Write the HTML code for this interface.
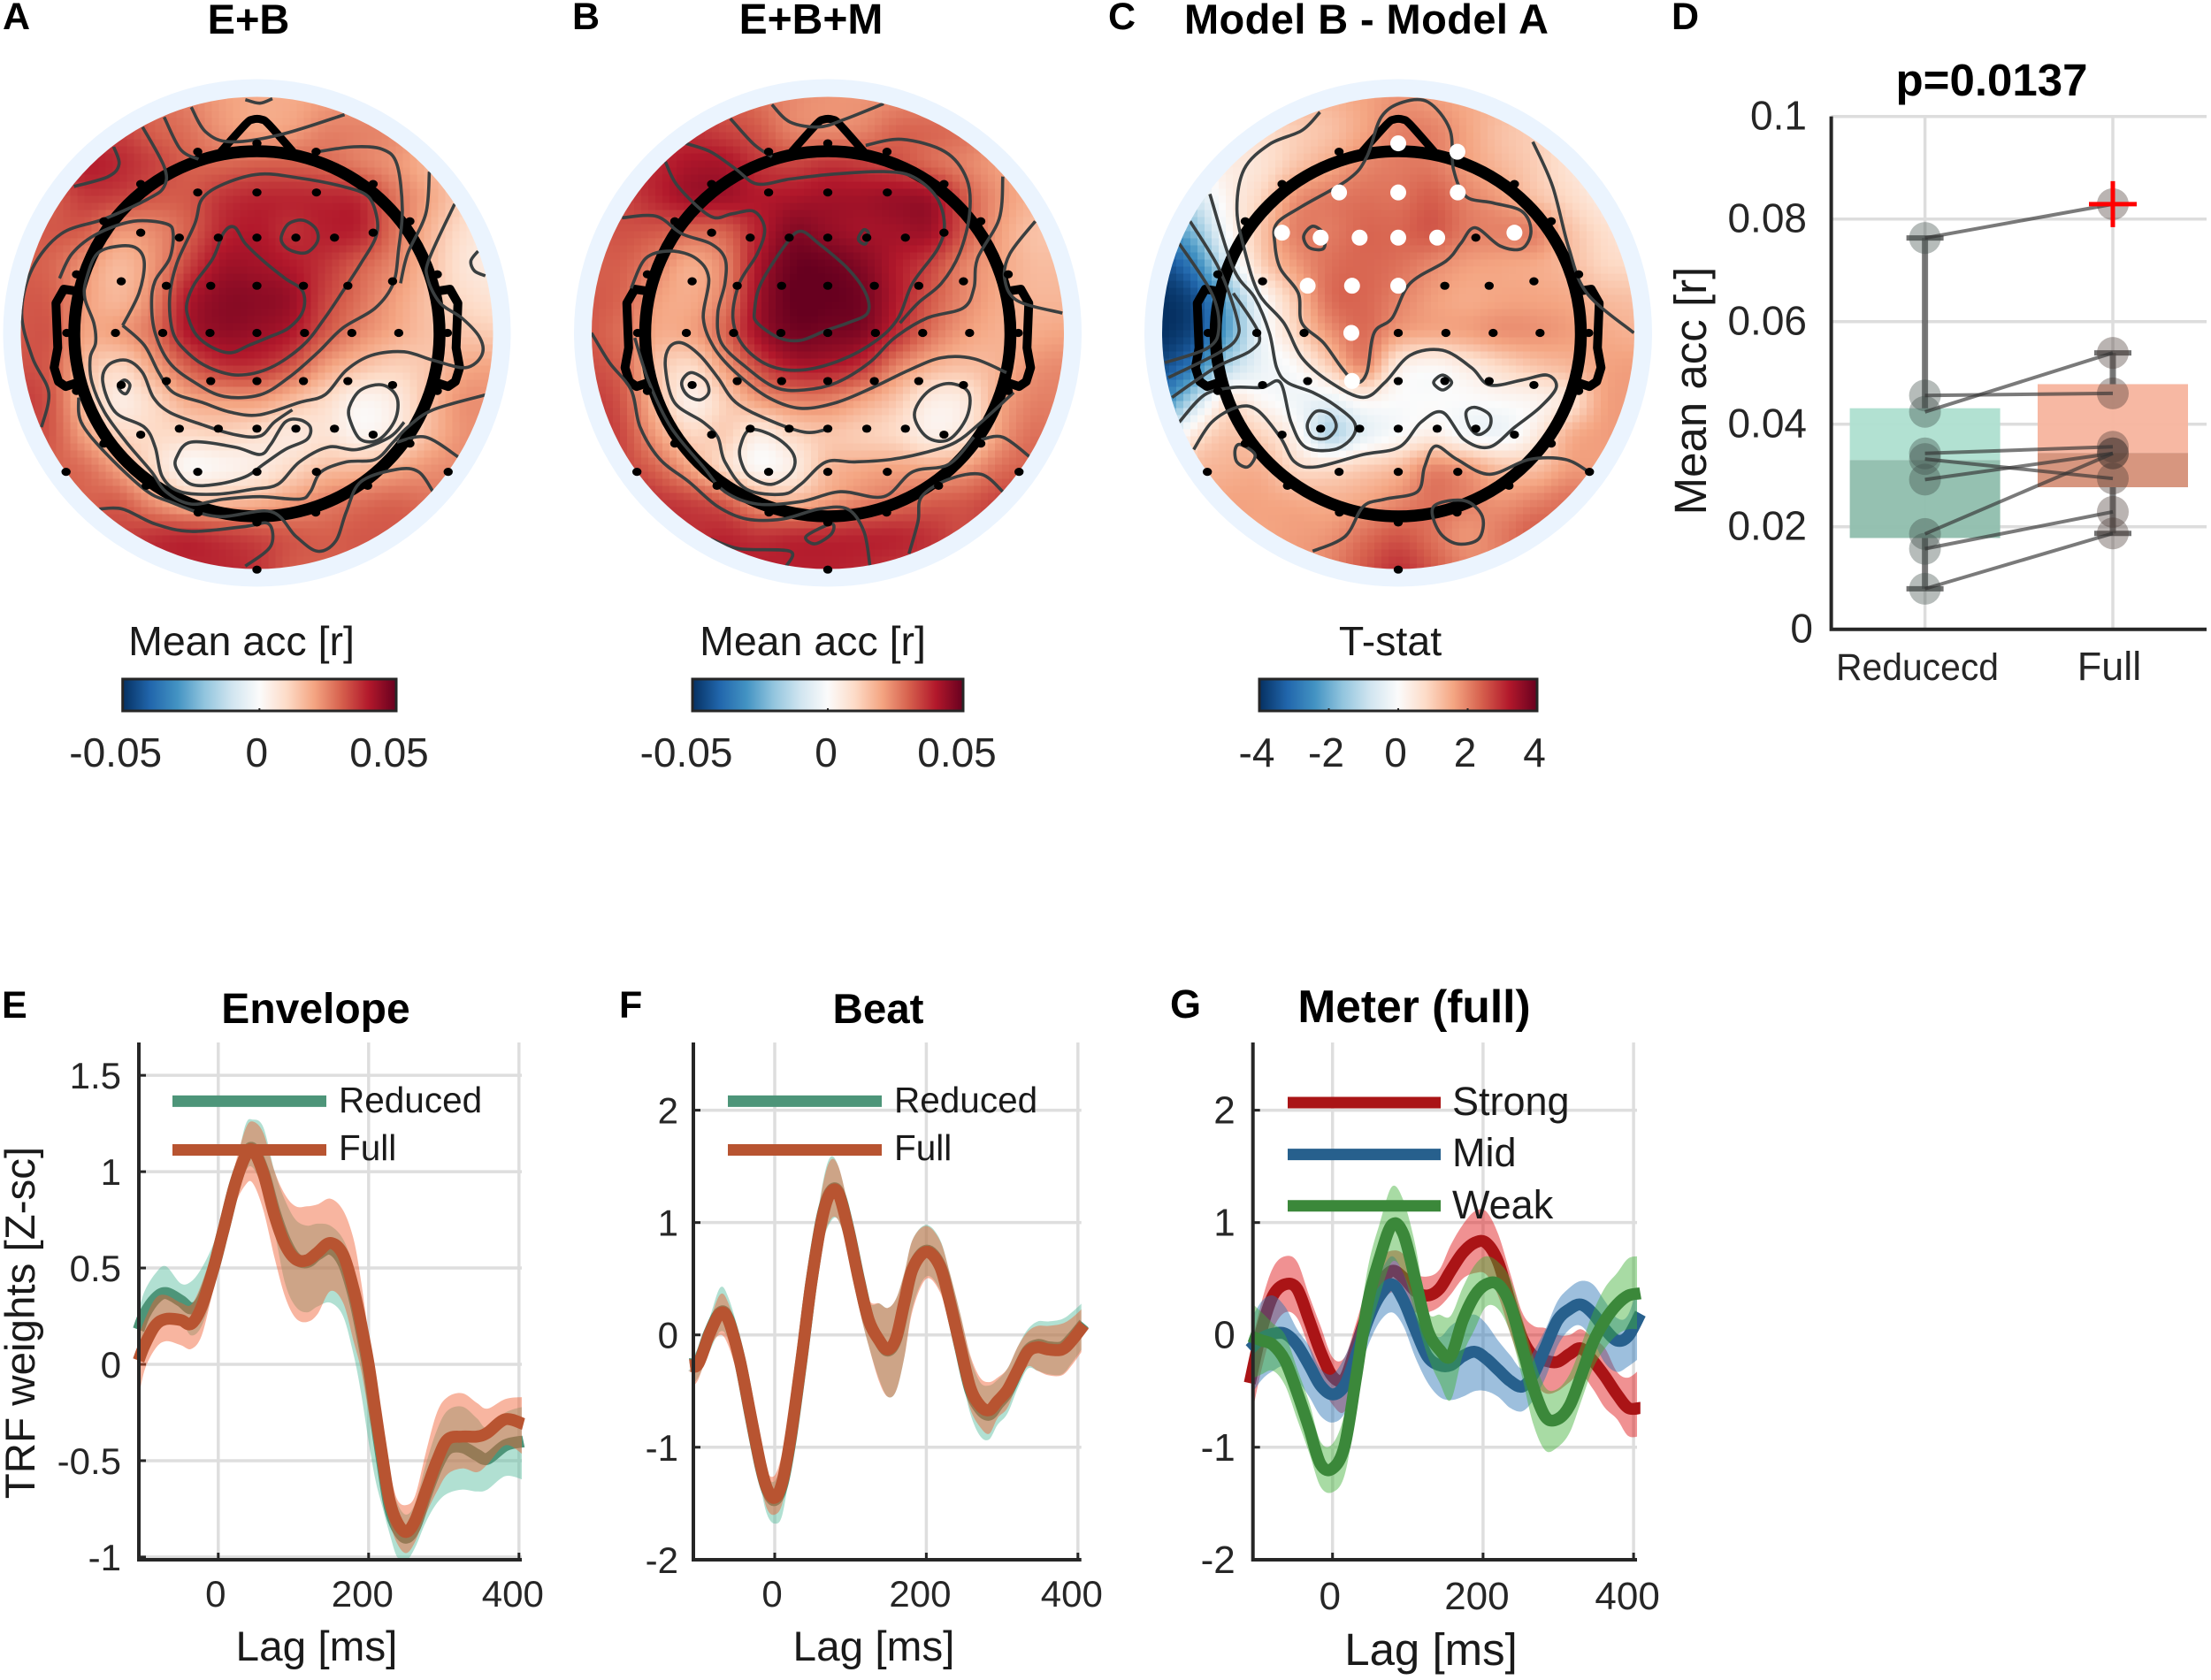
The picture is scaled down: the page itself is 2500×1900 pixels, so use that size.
<!DOCTYPE html>
<html lang="en">
<head>
<meta charset="utf-8">
<title>EEG topographies and TRF weights</title>
<style>
html,body{margin:0;padding:0;background:#fff;width:2500px;height:1900px;overflow:hidden}
svg{display:block;font-family:"Liberation Sans",sans-serif}
.tick{font-size:46px;fill:#262626}
.title{font-size:47px;font-weight:700;fill:#000}
.letter{font-size:43px;font-weight:700;fill:#000}
.label{fill:#1a1a1a}
</style>
</head>
<body>
<svg id="figure" xmlns="http://www.w3.org/2000/svg" width="2500" height="1900" viewBox="0 0 2500 1900">
  <rect width="2500" height="1900" fill="#fff"/>
  <g id="layer-topo"></g>
  <g id="layer-plots"></g>
  <g id="layer-text">
    <text class="letter" x="3" y="33">A</text>
    <text class="letter" x="647" y="33">B</text>
    <text class="letter" x="1253" y="33">C</text>
    <text class="letter" x="1890" y="33">D</text>
    <text class="letter" x="2" y="1151">E</text>
    <text class="letter" x="700" y="1151">F</text>
    <text class="letter" x="1323" y="1151" style="font-size:45px">G</text>

    <text class="title" x="281" y="38" text-anchor="middle">E+B</text>
    <text class="title" x="917" y="38" text-anchor="middle" style="font-size:48px">E+B+M</text>
    <text class="title" x="1545" y="38" text-anchor="middle" textLength="412">Model B - Model A</text>
    <text class="title" x="2252" y="108" text-anchor="middle" style="font-size:51px">p=0.0137</text>
    <text class="title" x="357" y="1157" text-anchor="middle" style="font-size:48px">Envelope</text>
    <text class="title" x="993" y="1157" text-anchor="middle" style="font-size:47.5px">Beat</text>
    <text class="title" x="1599" y="1156" text-anchor="middle" style="font-size:51.5px">Meter (full)</text>

    <text class="label" x="273" y="741" text-anchor="middle" font-size="46.5">Mean acc [r]</text>
    <text class="label" x="919" y="741" text-anchor="middle" font-size="46.5">Mean acc [r]</text>
    <text class="label" x="1572" y="741" text-anchor="middle" font-size="46.5">T-stat</text>

    <text class="label" x="1929" y="442" text-anchor="middle" font-size="51" transform="rotate(-90 1929 442)">Mean acc [r]</text>
    <text class="tick" x="2168" y="769" text-anchor="middle" textLength="184" lengthAdjust="spacingAndGlyphs" style="font-size:43px">Reducecd</text>
    <text class="tick" x="2385" y="769" text-anchor="middle" style="font-size:45px">Full</text>

    <text class="label" x="39" y="1496" text-anchor="middle" font-size="47.5" transform="rotate(-90 39 1496)">TRF weights [Z-sc]</text>
    <text class="label" x="358" y="1878" text-anchor="middle" font-size="47.7">Lag [ms]</text>
    <text class="label" x="988" y="1878" text-anchor="middle" font-size="47.7">Lag [ms]</text>
    <text class="label" x="1618" y="1883" text-anchor="middle" font-size="51">Lag [ms]</text>

    <text class="label" x="383" y="1258" font-size="40.5">Reduced</text>
    <text class="label" x="383" y="1312" font-size="40.5">Full</text>
    <text class="label" x="1011" y="1258" font-size="40.5">Reduced</text>
    <text class="label" x="1011" y="1312" font-size="40.5">Full</text>
    <text class="label" x="1642" y="1261" font-size="45">Strong</text>
    <text class="label" x="1642" y="1319" font-size="45">Mid</text>
    <text class="label" x="1642" y="1378" font-size="45">Weak</text>
  </g>
</svg>
<script>
/* ---------- colour scale ---------- */
const colormapValues = [-1,-0.8,-0.6,-0.4,-0.2,0,0.2,0.4,0.6,0.8,1];
const colormapColors = ['#053061','#2166ac','#4393c3','#92c5de','#d1e5f0','#fbfbfb','#fddbc7','#f4a582','#d6604d','#b2182b','#67001f'];

/* ---------- colorbar ticks ---------- */
const colorbarAccTicks = [-0.05,0,0.05];
const colorbarAccLabels = ['-0.05','0','0.05'];
const colorbarStatTicks = [-4,-2,0,2,4];
const colorbarStatLabels = ['-4','-2','0','2','4'];

/* ---------- scalp maps: 15x15 colour-scale samples (row = front to back) ---------- */
const topoAValues = [
[.62,.62,.62,.62,.58,.5,.42,.38,.38,.42,.45,.45,.42,.35,.3],
[.66,.66,.68,.68,.6,.55,.45,.4,.42,.5,.5,.48,.42,.3,.25],
[.68,.7,.78,.75,.68,.6,.58,.6,.6,.58,.52,.45,.35,.25,.2],
[.66,.62,.7,.68,.62,.62,.72,.76,.76,.76,.74,.55,.4,.25,.2],
[.6,.62,.6,.45,.48,.6,.76,.8,.74,.78,.76,.55,.35,.18,.1],
[.6,.58,.45,.33,.45,.68,.84,.84,.8,.72,.6,.48,.32,.15,.1],
[.62,.6,.42,.34,.5,.8,.9,.9,.86,.68,.55,.42,.3,.2,.15],
[.62,.62,.4,.42,.55,.8,.88,.86,.8,.62,.48,.38,.3,.28,.25],
[.65,.6,.32,.22,.4,.6,.72,.72,.62,.42,.3,.24,.28,.38,.4],
[.7,.62,.3,.1,.22,.38,.42,.42,.32,.2,.05,.1,.3,.45,.45],
[.68,.62,.4,.22,.2,.2,.22,.18,.12,.15,.05,.12,.32,.45,.45],
[.66,.6,.55,.4,.2,.03,.05,.1,.2,.3,.32,.38,.45,.48,.45],
[.68,.62,.6,.6,.45,.32,.32,.35,.42,.5,.55,.58,.55,.5,.45],
[.7,.7,.68,.68,.72,.74,.7,.66,.62,.6,.62,.62,.6,.5,.45],
[.72,.72,.74,.76,.76,.76,.76,.72,.62,.6,.6,.6,.58,.5,.45]];
const topoBValues = [
[.66,.66,.66,.66,.62,.55,.48,.45,.45,.48,.5,.5,.46,.42,.38],
[.7,.7,.72,.72,.68,.62,.5,.48,.5,.58,.58,.55,.48,.4,.36],
[.72,.74,.76,.82,.82,.72,.68,.72,.7,.66,.58,.5,.42,.36,.34],
[.7,.68,.76,.84,.84,.8,.82,.84,.84,.86,.84,.62,.45,.35,.32],
[.62,.64,.62,.58,.6,.78,.92,.88,.84,.84,.84,.62,.42,.3,.3],
[.6,.6,.5,.38,.5,.82,.98,.98,.92,.8,.68,.5,.4,.32,.32],
[.62,.58,.42,.38,.52,.85,1,1,.96,.8,.62,.48,.38,.34,.34],
[.62,.55,.38,.4,.58,.84,.96,.95,.92,.74,.55,.42,.36,.38,.4],
[.65,.58,.3,.2,.42,.66,.8,.8,.72,.5,.35,.3,.35,.45,.48],
[.7,.62,.32,.08,.25,.42,.5,.5,.4,.28,.1,.12,.38,.5,.5],
[.72,.66,.42,.22,.25,.1,.22,.28,.25,.2,.08,.15,.42,.55,.5],
[.74,.68,.58,.4,.2,.03,.1,.32,.38,.4,.38,.42,.55,.6,.55],
[.78,.78,.72,.68,.6,.42,.35,.42,.5,.55,.6,.62,.68,.68,.6],
[.78,.78,.76,.74,.76,.72,.74,.75,.76,.76,.72,.66,.72,.78,.65],
[.78,.78,.78,.78,.78,.78,.78,.78,.76,.72,.7,.7,.7,.7,.6]];
const topoCValues = [
[.3,.3,.3,.32,.35,.35,.4,.45,.42,.38,.35,.3,.25,.2,.15],
[.2,.2,.2,.2,.25,.3,.4,.5,.5,.4,.3,.25,.2,.12,.1],
[.0,.05,.1,.15,.28,.38,.48,.52,.52,.42,.33,.25,.15,.05,.05],
[-.3,-.2,.05,.22,.45,.52,.55,.55,.6,.5,.42,.3,.2,.1,.05],
[-.6,-.45,-.02,.28,.5,.52,.58,.58,.62,.52,.5,.5,.3,.18,.12],
[-.9,-.7,-.2,.22,.42,.55,.58,.55,.48,.42,.4,.38,.32,.22,.2],
[-1,-.9,-.5,-.03,.28,.55,.58,.5,.42,.38,.4,.4,.38,.32,.3],
[-1,-.9,-.55,-.08,.2,.44,.56,.42,.38,.4,.45,.45,.42,.38,.35],
[-.9,-.7,-.3,-.08,.02,.24,.46,.1,.03,.1,.2,.28,.33,.4,.42],
[-.7,-.3,.12,.03,-.05,-.08,.04,0,0,0,.02,.05,.15,.4,.42],
[-.3,.1,.28,.22,.05,-.28,-.1,0,.08,-.02,-.05,.1,.35,.42,.42],
[.1,.3,.35,.35,.2,.18,.25,.32,.48,.42,.3,.3,.42,.42,.42],
[.3,.35,.4,.4,.38,.36,.4,.48,.55,.5,.45,.5,.55,.5,.42],
[.4,.4,.4,.4,.42,.45,.55,.62,.55,.45,.52,.6,.55,.5,.42],
[.42,.42,.42,.42,.42,.5,.62,.72,.62,.5,.48,.5,.5,.45,.42]];

/* ---------- electrodes in scalp units: [u, v, significant in the T-stat map] ---------- */
const electrodes = [
[0,-382,1],[-164,-365,0],[164,-365,1],[-322,-300,0],[322,-300,0],[-164,-283,1],[0,-283,1],[165,-283,1],
[-424,-225,0],[424,-225,0],[-322,-202,1],[322,-202,1],[-215,-192,1],[-107,-192,1],[0,-192,1],[108,-192,1],[215,-192,0],
[-500,-118,0],[500,-118,0],[-376,-104,0],[376,-104,0],[-251,-95,1],[-128,-95,1],[0,-95,1],[129,-95,0],[252,-95,0],
[-527,0,0],[-392,0,0],[-261,0,0],[-130,0,1],[0,0,0],[132,0,0],[263,0,0],[393,0,0],[528,0,0],
[-251,97,0],[-128,97,1],[0,97,0],[129,97,0],[252,97,0],[-376,105,0],[376,105,0],[-500,117,0],[500,117,0],
[-215,193,0],[-107,193,0],[0,193,0],[108,193,0],[215,193,0],[-322,205,0],[322,205,0],[-424,223,0],[424,223,0],
[-529,280,0],[-164,280,0],[0,280,0],[165,280,0],[530,280,0],[-307,308,0],[307,308,0],[-163,362,0],[163,362,0],[0,382,0],[0,477,0]];

/* ---------- contour lines in zoomed scalp units: each entry = {c:closed, p:[u,v,...]} ---------- */
const topoAContours = [
{c:1,p:[518,610,540,570,590,520,620,468,650,457,680,490,730,525,790,560,838,585,840,625,800,660,740,680,690,695,640,710,590,700,545,675,522,640]},
{c:1,p:[470,600,490,530,540,450,560,400,620,370,720,350,830,358,950,375,1020,395,1045,440,1040,480,1000,530,960,575,900,640,840,695,750,740,660,755,580,740,520,710,480,670]},
{c:1,p:[780,475,800,450,840,443,875,460,880,485,850,508,810,505,785,492]},
{c:0,p:[165,560,200,510,270,470,370,445,460,450,480,470,470,520,430,565,420,610,430,670,470,730,540,770,620,798,720,795,800,760,880,710,950,660,1040,620,1090,570,1105,500,1115,420,1100,330,1060,300,980,295,880,305]},
{c:0,p:[340,655,385,590,400,530,380,500,330,495,270,510,240,560,235,600,260,650,265,690,250,720,255,770,290,830,350,890,420,950,460,990,530,1015,620,1005,720,1000,830,1005,860,990,890,950,960,930,1040,925,1090,890,1130,860,1200,825,1345,795]},
{c:0,p:[340,655,400,695,440,750,480,790,560,810,640,830,720,835,830,810,900,795,960,745,1030,715,1120,708,1200,725,1290,740,1335,715,1330,680,1280,640,1220,610,1185,560,1190,520,1260,410]},
{c:1,p:[490,920,530,890,650,900,720,915,750,895,790,850,830,845,860,860,850,885,790,905,730,935,680,960,600,975,530,975,490,945]},
{c:0,p:[1120,850,1080,880,990,905,910,900,830,930,770,975,700,985,600,995,500,990,450,960,430,900,400,860,320,830,285,770,300,735,350,725,395,750,425,800,470,830,560,855,650,875,720,878,760,850,810,825]},
{c:1,p:[968,820,1000,785,1060,775,1100,800,1095,845,1050,885,1000,885,972,850]},
{c:1,p:[328,775,345,765,360,775,350,792,335,788]},
{c:0,p:[315,295,330,330,300,355,205,375]},
{c:0,p:[395,255,455,335,455,375,410,400,290,440,170,470,90,540,60,630,90,720,135,790,115,860]},
{c:0,p:[455,235,500,300,550,320]},
{c:0,p:[530,215,570,265,640,285,780,270,955,230]},
{c:0,p:[680,200,720,207,755,198]},
{c:0,p:[1190,345,1180,430,1130,510,1110,570]},
{c:0,p:[1325,505,1305,525,1315,545,1345,555]},
{c:0,p:[275,1025,340,1025,430,1055,530,1070,680,1060,745,1055,750,1100,680,1140]},
{c:0,p:[218,800,225,850,290,910,400,985,470,1010,600,1040,750,1030,820,1080,880,1110,930,1090,960,1030,1000,970,1100,945,1160,950,1200,990]},
{c:0,p:[1100,890,1180,880,1270,920]}];
const topoBContours = [
{c:1,p:[522,625,540,570,610,490,650,465,700,490,780,540,830,590,835,630,780,650,720,665,650,685,590,680,530,650]},
{c:0,p:[275,325,310,375,400,435,460,430,520,425,550,460,530,510,480,570,462,640,490,695,560,735,650,745,760,725,860,685,920,640,960,570,1030,500,1048,450,1025,395,960,355,880,345,740,350,620,360,530,370,470,340,400,305,330,288]},
{c:0,p:[155,438,250,435,320,470,400,490,440,520,440,570,420,630,430,690,500,740,580,780,660,785,750,770,840,730,910,680,1000,640,1100,620,1130,580,1140,520,1200,440,1210,355]},
{c:0,p:[830,292,930,280,1050,305,1110,360,1118,430,1090,510,1040,570,975,610,925,650]},
{c:0,p:[180,580,220,520,290,505,360,520,395,560,380,640,410,700,470,750,560,800,650,822,750,810,850,780,950,745,1040,720,1130,722,1220,750]},
{c:0,p:[1240,790,1150,850,1080,890,1000,910,900,925,800,930,720,930,650,975,600,995,500,985,440,930,420,880,380,850,300,810,275,740,285,700,320,690,370,715,420,760,470,810,560,845,660,870,720,865]},
{c:1,p:[482,900,510,865,580,880,630,915,625,950,570,975,510,960,485,930]},
{c:1,p:[965,835,1000,790,1060,772,1115,790,1110,840,1060,885,1000,880]},
{c:1,p:[320,770,345,750,385,765,395,790,370,805,335,795]},
{c:1,p:[810,478,825,462,838,470,830,490,815,487]},
{c:0,p:[70,670,120,730,180,785,205,860,260,925,340,970,420,1020,500,1045,600,1045,700,1025,780,1025,825,1070,842,1140]},
{c:0,p:[190,680,230,770,290,860,380,940,440,990,530,1015,650,1010,760,990,880,1000,960,950,1060,935,1130,880]},
{c:0,p:[950,1115,975,1050,985,1000,1060,965,1150,955,1210,990]},
{c:0,p:[1150,885,1210,880,1285,920]},
{c:0,p:[570,210,620,245,700,255,770,240,880,208]},
{c:0,p:[455,238,520,290,570,315]},
{c:0,p:[1300,445,1230,510,1215,560,1250,605,1375,630]},
{c:0,p:[400,1085,480,1105,620,1110,610,1140]},
{c:1,p:[665,1080,735,1055,735,1075,690,1095]}];
const topoCContours = [
{c:1,p:[400,450,470,415,600,360,650,315,690,235,750,205,820,205,880,260,890,340,925,395,1000,408,1080,425,1105,465,1080,500,1020,495,950,458,910,490,870,525,770,570,720,640,670,670,650,750,620,770,580,740,530,690,470,650,460,590,410,540,395,490]},
{c:1,p:[475,475,500,455,530,470,530,500,490,498]},
{c:0,p:[520,225,470,262,380,290,310,340,290,420,310,500,350,590,420,650,470,720,550,770,640,800,700,770,770,715,860,705,940,740,990,775,1080,765,1150,755,1175,780,1130,820,1060,860,990,900,920,885,860,830,800,850,740,900,640,915,510,940,450,930,410,880,345,825,290,820,220,850,170,905]},
{c:0,p:[130,850,200,795,280,780,360,780,410,770,440,850,480,900,560,905,610,880,615,850,560,815,500,790,430,770,400,740,380,670,340,600,280,540,215,390]},
{c:0,p:[160,445,240,540,290,640,290,680,240,710,100,760]},
{c:0,p:[130,490,220,590,240,660,210,700,90,730]},
{c:0,p:[110,800,230,740,330,705,350,670,280,590]},
{c:1,p:[485,855,510,828,550,835,565,860,540,882,500,880]},
{c:1,p:[925,830,950,820,990,835,990,860,960,875,935,860]},
{c:1,p:[835,770,860,755,885,770,860,785]},
{c:0,p:[500,1110,590,1080,640,1020,700,1005,790,990,810,940,840,898,900,925,990,955,1100,925,1200,925,1265,950]},
{c:1,p:[835,1020,920,1008,970,1040,960,1085,900,1095,850,1070]},
{c:0,p:[1110,285,1165,375,1210,500,1260,590,1390,670]},
{c:1,p:[300,895,340,915,320,940,290,930,285,905]}];

/* ---------- panel D: paired accuracies ---------- */
const boxCategories = ['Reduced','Full'];
const accReduced = [.0763,.0424,.0456,.0343,.0332,.0292,.0186,.0157,.0079];
const accFull = [.0829,.0539,.0460,.0356,.0294,.0343,.0343,.0229,.0187];
const boxQ1 = [.0178,.0277];
const boxMedian = [.0330,.0344];
const boxQ3 = [.0431,.0478];
const whiskerLow = [.0079,.0187];
const whiskerHigh = [.0763,.0539];
const outlierValues = [null,.0829];
const accTicks = [0,.02,.04,.06,.08,.1];
const accTickLabels = ['0','0.02','0.04','0.06','0.08','0.1'];

/* ---------- panel E: Envelope ---------- */
const envLags = [-106,-98,-84,-70,-50,-36,-22,-7,7,22,36,46,60,75,89,103,118,132,149,166,180,190,200,209,219,228,238,250,262,276,291,305,325,344,358,382,406];
const envReducedMean = [.18,.26,.34,.37,.33,.29,.33,.49,.7,.93,1.08,1.12,1,.79,.64,.55,.53,.57,.6,.53,.36,.18,-.03,-.27,-.53,-.74,-.85,-.9,-.84,-.68,-.53,-.44,-.43,-.47,-.49,-.42,-.4];
const envReducedUpper = [.28,.38,.47,.51,.42,.43,.5,.62,.78,1,1.24,1.27,1.23,1,.85,.75,.72,.73,.72,.65,.5,.3,.1,-.12,-.4,-.58,-.72,-.78,-.72,-.52,-.34,-.24,-.22,-.28,-.33,-.25,-.22];
const envReducedLower = [.1,.12,.2,.22,.22,.15,.2,.38,.6,.85,1,1.02,.9,.68,.42,.3,.27,.3,.32,.25,.05,-.15,-.4,-.6,-.75,-.88,-1,-1.02,-.95,-.82,-.72,-.67,-.65,-.66,-.65,-.58,-.6];
const envFullMean = [.02,.1,.2,.235,.23,.21,.3,.49,.7,.93,1.08,1.11,.99,.77,.62,.545,.54,.58,.63,.57,.39,.21,0,-.24,-.5,-.71,-.82,-.87,-.81,-.66,-.5,-.39,-.375,-.375,-.355,-.285,-.31];
const envFullUpper = [.15,.23,.34,.36,.32,.31,.42,.6,.8,1.03,1.22,1.26,1.2,1,.88,.82,.82,.83,.86,.8,.65,.43,.15,-.1,-.35,-.55,-.7,-.73,-.68,-.46,-.25,-.17,-.15,-.2,-.23,-.18,-.17];
const envFullLower = [-.18,-.03,.08,.12,.1,.08,.15,.38,.58,.82,.93,.94,.8,.55,.35,.24,.22,.26,.38,.32,.12,-.03,-.25,-.45,-.68,-.82,-.93,-.98,-.92,-.78,-.66,-.57,-.54,-.56,-.52,-.42,-.47];
const envYTicks = [-1,-.5,0,.5,1,1.5];
const envYTickLabels = ['-1','-0.5','0','0.5','1','1.5'];

/* ---------- panel F: Beat ---------- */
const beatLags = [-112,-101,-86,-72,-61,-46,-32,-19,-10,0,10,21,35,48,62,73,84,97,111,124,138,149,160,171,182,200,218,231,245,258,271,283,294,307,321,334,347,361,379,392,408];
const beatReducedMean = [-.26,-.25,.02,.2,.14,-.23,-.72,-1.16,-1.38,-1.47,-1.33,-.93,-.24,.45,1.03,1.27,1.27,.95,.5,.13,-.05,-.14,-.04,.28,.59,.75,.62,.3,-.12,-.49,-.66,-.71,-.62,-.51,-.31,-.14,-.09,-.11,-.11,-.03,.1];
const beatReducedUpper = [-.2,-.12,.15,.42,.33,-.02,-.5,-1,-1.25,-1.3,-1.1,-.7,-.05,.65,1.3,1.58,1.5,1.15,.7,.3,.28,.24,.32,.55,.85,.98,.85,.55,.18,-.2,-.42,-.45,-.4,-.3,-.1,.05,.12,.12,.14,.2,.3];
const beatReducedLower = [-.45,-.38,-.15,.03,-.05,-.42,-.92,-1.35,-1.6,-1.68,-1.6,-1.15,-.42,.25,.78,1,1.02,.72,.25,-.1,-.4,-.55,-.5,-.2,.25,.52,.4,.1,-.32,-.7,-.9,-.93,-.8,-.7,-.47,-.3,-.32,-.35,-.35,-.25,-.1];
const beatFullMean = [-.27,-.26,.01,.19,.13,-.23,-.71,-1.15,-1.37,-1.45,-1.31,-.91,-.23,.45,1.02,1.26,1.26,.94,.49,.13,-.05,-.13,-.03,.29,.59,.74,.61,.29,-.11,-.47,-.63,-.67,-.59,-.49,-.31,-.15,-.11,-.13,-.13,-.05,.09];
const beatFullUpper = [-.22,-.15,.12,.36,.28,-.05,-.52,-1,-1.22,-1.25,-1.05,-.68,-.05,.65,1.28,1.55,1.5,1.15,.72,.32,.28,.24,.32,.55,.85,.97,.84,.55,.18,-.18,-.38,-.42,-.38,-.3,-.1,.03,.08,.08,.1,.15,.25];
const beatFullLower = [-.47,-.4,-.12,0,-.1,-.44,-.9,-1.32,-1.55,-1.6,-1.5,-1.1,-.4,.25,.78,1.02,1.02,.74,.25,-.1,-.42,-.55,-.5,-.2,.22,.5,.38,.08,-.32,-.66,-.82,-.88,-.74,-.65,-.42,-.28,-.32,-.36,-.36,-.27,-.12];

/* ---------- panel G: Meter ---------- */
const meterLags = [-110,-94,-79,-63,-47,-31,-16,0,16,31,47,63,79,94,110,126,142,157,173,189,204,220,236,252,267,283,299,315,330,346,362,378,393,409];
const strongMean = [-.43,.05,.35,.45,.41,.13,-.15,-.37,-.39,-.11,.21,.45,.57,.51,.39,.35,.41,.57,.73,.82,.82,.65,.29,-.03,-.19,-.23,-.24,-.17,-.12,-.23,-.37,-.53,-.65,-.65];
const strongUpper = [-.15,.3,.6,.7,.65,.35,.08,-.2,-.2,.1,.45,.68,.75,.72,.55,.52,.58,.8,.98,1.1,1.1,.9,.55,.2,.08,.06,0,0,.05,-.03,-.12,-.33,-.38,-.3];
const strongLower = [-.8,-.3,.05,.2,.15,-.12,-.42,-.62,-.68,-.35,-.02,.25,.38,.3,.2,.2,.25,.36,.5,.55,.54,.35,.02,-.28,-.42,-.52,-.5,-.42,-.35,-.48,-.65,-.75,-.9,-.9];
const midMean = [-.13,-.03,.01,.01,-.09,-.27,-.45,-.53,-.45,-.19,.13,.35,.45,.31,.05,-.19,-.27,-.27,-.19,-.15,-.21,-.31,-.41,-.46,-.35,-.11,.13,.23,.27,.19,.05,-.05,-.01,.19];
const midUpper = [.12,.3,.35,.25,.05,-.1,-.3,-.35,-.2,.05,.35,.55,.7,.55,.3,.08,-.02,.08,.15,.18,.1,-.05,-.18,-.3,-.15,.05,.3,.42,.48,.45,.3,.15,.18,.52];
const midLower = [-.55,-.4,-.32,-.28,-.4,-.55,-.72,-.78,-.7,-.42,-.1,.12,.2,.08,-.2,-.42,-.55,-.58,-.55,-.5,-.5,-.55,-.65,-.68,-.58,-.38,-.1,.05,.08,-.05,-.25,-.33,-.28,-.2];
const weakMean = [-.01,-.05,-.09,-.23,-.51,-.83,-1.15,-1.19,-.99,-.39,.29,.69,.98,.9,.49,.05,-.13,-.19,.13,.35,.45,.45,.27,-.11,-.47,-.73,-.75,-.63,-.37,-.07,.13,.27,.35,.37];
const weakUpper = [.3,.2,.1,0,-.3,-.6,-.95,-.97,-.7,-.1,.6,1,1.32,1.2,.8,.22,.18,.17,.42,.62,.7,.65,.5,.15,-.2,-.47,-.48,-.35,-.1,.2,.42,.55,.68,.7];
const weakLower = [-.4,-.35,-.32,-.45,-.75,-1.05,-1.35,-1.4,-1.25,-.7,-.05,.35,.65,.55,.18,-.18,-.42,-.58,-.18,.05,.25,.23,.02,-.38,-.8,-1.03,-1,-.87,-.6,-.3,-.12,0,.05,.05];
const lagTicks = [0,200,400];
const lagTickLabels = ['0','200','400'];
const unitYTicks = [-2,-1,0,1,2];
const unitYTickLabels = ['-2','-1','0','1','2'];

/* ---------- helpers ---------- */
const NS = 'http://www.w3.org/2000/svg';
const svgRoot = document.getElementById('figure');
const topoLayer = document.getElementById('layer-topo');
const plotLayer = document.getElementById('layer-plots');

function mk(tag, attrs, parent) {
  const n = document.createElementNS(NS, tag);
  for (const k in attrs) n.setAttribute(k, attrs[k]);
  parent.appendChild(n);
  return n;
}
function hexRgb(h) {
  return [parseInt(h.slice(1,3),16), parseInt(h.slice(3,5),16), parseInt(h.slice(5,7),16)];
}
function colorOf(v) {
  const t = Math.max(-1, Math.min(1, v));
  for (let i = 0; i < colormapValues.length - 1; i++) {
    if (t <= colormapValues[i+1]) {
      const f = (t - colormapValues[i]) / (colormapValues[i+1] - colormapValues[i]);
      const a = hexRgb(colormapColors[i]);
      const b = hexRgb(colormapColors[i+1]);
      return 'rgb(' + Math.round(a[0]+(b[0]-a[0])*f) + ',' + Math.round(a[1]+(b[1]-a[1])*f) + ',' + Math.round(a[2]+(b[2]-a[2])*f) + ')';
    }
  }
  return colormapColors[colormapColors.length-1];
}
function catmull(p0, p1, p2, p3, t) {
  return 0.5 * (2*p1 + (p2-p0)*t + (2*p0-5*p1+4*p2-p3)*t*t + (3*p1-p0-3*p2+p3)*t*t*t);
}
function sampleGrid(grid, gx, gy) {
  const n = grid.length;
  const cl = i => Math.max(0, Math.min(n-1, i));
  const ix = Math.floor(gx), iy = Math.floor(gy);
  const fx = gx - ix, fy = gy - iy;
  const rows = [];
  for (let j = -1; j <= 2; j++) {
    const r = grid[cl(iy+j)];
    rows.push(catmull(r[cl(ix-1)], r[cl(ix)], r[cl(ix+1)], r[cl(ix+2)], fx));
  }
  return catmull(rows[0], rows[1], rows[2], rows[3], fy);
}
function smoothPath(pts, closed, moveOnly) {
  const n = pts.length;
  const at = i => closed ? pts[(i+n)%n] : pts[Math.max(0, Math.min(n-1, i))];
  let d = (moveOnly === false ? 'L' : 'M') + pts[0][0].toFixed(1) + ' ' + pts[0][1].toFixed(1);
  const segs = closed ? n : n-1;
  for (let i = 0; i < segs; i++) {
    const p0 = at(i-1), p1 = at(i), p2 = at(i+1), p3 = at(i+2);
    d += 'C' + (p1[0]+(p2[0]-p0[0])/6).toFixed(1) + ' ' + (p1[1]+(p2[1]-p0[1])/6).toFixed(1) + ' ' +
         (p2[0]-(p3[0]-p1[0])/6).toFixed(1) + ' ' + (p2[1]-(p3[1]-p1[1])/6).toFixed(1) + ' ' +
         p2[0].toFixed(1) + ' ' + p2[1].toFixed(1);
  }
  return closed ? d + 'Z' : d;
}

/* ---------- scalp maps ---------- */
const SCALP_SX = 0.408, SCALP_SY = 0.5612, SCALP_CY = 376.5, MAP_R = 267, HALO_R = 287, CELL = 8;
const GRID_DU = 95, GRID_DV = 68;
const noseOutline = [[-100,-365],[-32,-420],[-12,-430],[13,-430],[33,-420],[100,-365]];
const earOutline = [[507,-85],[535,-88],[557,-60],[552,30],[562,70],[550,98],[530,108],[497,100]];

function drawTopo(key, cx, originU, grid, contours, markSig) {
  const sx = u => cx + u * SCALP_SX;
  const sy = v => SCALP_CY + v * SCALP_SY;
  const g = mk('g', {}, topoLayer);
  
  
  const clip = mk('clipPath', {id: 'map-clip-' + key}, g);
  
  
  const clipCircle = mk('circle', {cx: cx, cy: SCALP_CY, r: MAP_R}, clip);
  
  
  const halo = mk('circle', {cx: cx, cy: SCALP_CY, r: HALO_R, fill: '#ebf4fe'}, g);
  
  
  const cells = mk('g', {'clip-path': 'url(#map-clip-' + key + ')', 'shape-rendering': 'crispEdges'}, g);
  
  
  for (let py = SCALP_CY - MAP_R - CELL; py < SCALP_CY + MAP_R + CELL; py += CELL) {
    for (let px = cx - MAP_R - CELL; px < cx + MAP_R + CELL; px += CELL) {
      const mx = px + CELL/2, my = py + CELL/2;
      if (Math.hypot(mx - cx, my - SCALP_CY) > MAP_R + CELL) continue;
      const u = (mx - cx) / SCALP_SX, v = (my - SCALP_CY) / SCALP_SY;
      const val = sampleGrid(grid, u/GRID_DU + 7, v/GRID_DV + 7);
      const cell = mk('rect', {x: px, y: py, width: CELL, height: CELL, fill: colorOf(val)}, cells);
      
      
    }
  }
  const ring = mk('circle', {cx: cx, cy: SCALP_CY + 1, r: 206.5, fill: 'none', stroke: '#000', 'stroke-width': 13.5}, g);
  
  
  const nose = mk('path', {d: smoothPath(noseOutline.map(p => [sx(p[0]), sy(p[1])]), false), fill: 'none', stroke: '#000', 'stroke-width': 9, 'stroke-linejoin': 'round'}, g);
  
  
  [-1, 1].forEach(side => {
    const ear = mk('polyline', {points: earOutline.map(p => sx(side*p[0]) + ',' + sy(p[1])).join(' '), fill: 'none', stroke: '#000', 'stroke-width': 10, 'stroke-linejoin': 'round', 'stroke-linecap': 'round'}, g);
    
    
  });
  const lines = mk('g', {'clip-path': 'url(#map-clip-' + key + ')'}, g);
  
  
  contours.forEach(ct => {
    const pts = [];
    for (let i = 0; i < ct.p.length; i += 2) pts.push([sx(ct.p[i] - originU), sy(ct.p[i+1] - 670)]);
    const line = mk('path', {d: smoothPath(pts, !!ct.c), fill: 'none', stroke: '#3a3f40', 'stroke-width': 3.6, 'stroke-linejoin': 'round'}, lines);
    
    
  });
  electrodes.forEach(e => {
    const sig = markSig && e[2] === 1;
    const dot = mk('ellipse', {cx: sx(e[0]), cy: sy(e[1]), rx: sig ? 9 : 5.2, ry: sig ? 9 : 4.6, fill: sig ? '#fff' : '#000'}, g);
    
    
  });
}
drawTopo('a', 290.5, 712, topoAValues, topoAContours, false);
drawTopo('b', 936, 725, topoBValues, topoBContours, false);
drawTopo('c', 1581, 737, topoCValues, topoCContours, true);

/* ---------- colorbars ---------- */
const defs = mk('defs', {}, svgRoot);


const grad = mk('linearGradient', {id: 'cbar-gradient', x1: 0, x2: 1, y1: 0, y2: 0}, defs);


colormapValues.forEach((v, i) => {
  const stop = mk('stop', {offset: (v+1)/2, 'stop-color': colormapColors[i]}, grad);
  
  
});
function drawColorbar(key, x0, x1, ticks, labels, maxVal, endShift, midShift) {
  const g = mk('g', {}, topoLayer);
  
  
  const bar = mk('rect', {x: x0, y: 768, width: x1-x0, height: 36, fill: 'url(#cbar-gradient)', stroke: '#262626', 'stroke-width': 3}, g);
  
  
  const xOf = v => x0 + (v + maxVal) / (2*maxVal) * (x1 - x0);
  ticks.forEach((t, i) => {
    if (Math.abs(t) < maxVal) {
      const tk = mk('line', {x1: xOf(t), x2: xOf(t), y1: 801, y2: 804, stroke: '#262626', 'stroke-width': 2}, g);
      
      
    }
    const shift = midShift + (endShift - midShift) * Math.abs(t) / maxVal;
    const lb = mk('text', {x: xOf(t) + shift, y: 867, 'text-anchor': 'middle', class: 'tick'}, g);
    lb.textContent = labels[i];
    
    
  });
}
drawColorbar('a', 138.7, 448, colorbarAccTicks, colorbarAccLabels, 0.05, -8, -3);
drawColorbar('b', 783, 1089, colorbarAccTicks, colorbarAccLabels, 0.05, -7, -2);
drawColorbar('c', 1424, 1738, colorbarStatTicks, colorbarStatLabels, 4, -3, -3);

/* ---------- panel D ---------- */
(function () {
  const yD = v => 711.7 - v * 5800;
  const xD = c => 2176.6 + (c - 1) * 212.4;
  const left = 2070.6, right = 2495, top = 131.6, bottom = 711.7;
  const g = mk('g', {}, plotLayer);
  
  
  accTicks.forEach((t, i) => {
    if (t > 0) {
      const gl = mk('line', {x1: left, x2: right, y1: yD(t), y2: yD(t), stroke: '#dddddd', 'stroke-width': 3.5}, g);
      
      
    }
    const lb = mk('text', {x: t === 0 ? 2050 : 2043, y: yD(t) + 15, 'text-anchor': 'end', class: 'tick'}, g);
    lb.textContent = accTickLabels[i];
    
    
  });
  boxCategories.forEach((c, i) => {
    const gl = mk('line', {x1: xD(i+1), x2: xD(i+1), y1: top, y2: bottom, stroke: '#dddddd', 'stroke-width': 3.5}, g);
    
    
  });
  const boxColors = [['#aedfd0', '#92bfae'], ['#f7b49e', '#d6937b']];
  boxCategories.forEach((c, i) => {
    const x = xD(i+1) - 85, w = 170;
    const upper = mk('rect', {x: x, y: yD(boxQ3[i]), width: w, height: yD(boxMedian[i]) - yD(boxQ3[i]), fill: boxColors[i][0], 'fill-opacity': .95}, g);
    
    
    const lower = mk('rect', {x: x, y: yD(boxMedian[i]), width: w, height: yD(boxQ1[i]) - yD(boxMedian[i]), fill: boxColors[i][1], 'fill-opacity': .97}, g);
    
    
    [[boxQ3[i], whiskerHigh[i]], [boxQ1[i], whiskerLow[i]]].forEach(pair => {
      const wh = mk('line', {x1: xD(i+1), x2: xD(i+1), y1: yD(pair[0]), y2: yD(pair[1]), stroke: '#4a4a4a', 'stroke-opacity': .72, 'stroke-width': 7}, g);
      
      
      const cap = mk('line', {x1: xD(i+1) - 21, x2: xD(i+1) + 21, y1: yD(pair[1]), y2: yD(pair[1]), stroke: '#4a4a4a', 'stroke-opacity': .78, 'stroke-width': 6}, g);
      
      
    });
  });
  accReduced.forEach(v => {
    const d = mk('circle', {cx: xD(1), cy: yD(v), r: 18, fill: '#3f4f49', 'fill-opacity': .38}, g);
    
    
  });
  accFull.forEach(v => {
    const d = mk('circle', {cx: xD(2), cy: yD(v), r: 18, fill: '#4a3a34', 'fill-opacity': .38}, g);
    
    
  });
  accReduced.forEach((v, i) => {
    const ln = mk('line', {x1: xD(1), x2: xD(2), y1: yD(v), y2: yD(accFull[i]), stroke: '#333', 'stroke-opacity': .65, 'stroke-width': 4}, g);
    
    
  });
  outlierValues.forEach((v, i) => {
    if (v === null) return;
    const h = mk('line', {x1: xD(i+1) - 27, x2: xD(i+1) + 27, y1: yD(v), y2: yD(v), stroke: '#ff0000', 'stroke-width': 5}, g);
    
    
    const u = mk('line', {x1: xD(i+1), x2: xD(i+1), y1: yD(v) - 26, y2: yD(v) + 26, stroke: '#ff0000', 'stroke-width': 5}, g);
    
    
  });
  const ax = mk('path', {d: 'M' + left + ' ' + top + 'V' + bottom + 'H' + right, fill: 'none', stroke: '#262626', 'stroke-width': 4}, g);
  
  
})();

/* ---------- TRF panels ---------- */
function drawAxes(key, cfg, yTicks, yLabels, tickSize) {
  const xOf = ms => cfg.x0 + ms * cfg.xPer;
  const yOf = v => cfg.y0 - v * cfg.yPer;
  const g = mk('g', {}, plotLayer);
  
  
  yTicks.forEach((t, i) => {
    const gl = mk('line', {x1: cfg.left, x2: cfg.right, y1: yOf(t), y2: yOf(t), stroke: '#dedede', 'stroke-width': 3.5}, g);
    
    
    const tk = mk('line', {x1: cfg.left, x2: cfg.left + 8, y1: yOf(t), y2: yOf(t), stroke: '#262626', 'stroke-width': 3}, g);
    
    
    const lb = mk('text', {x: cfg.left - cfg.labelGap, y: yOf(t) + 15, 'text-anchor': 'end', class: 'tick', style: 'font-size:' + tickSize + 'px'}, g);
    lb.textContent = yLabels[i];
    
    
  });
  lagTicks.forEach((t, i) => {
    const gl = mk('line', {x1: xOf(t), x2: xOf(t), y1: cfg.top, y2: cfg.bottom, stroke: '#dedede', 'stroke-width': 3.5}, g);
    
    
    const tk = mk('line', {x1: xOf(t), x2: xOf(t), y1: cfg.bottom, y2: cfg.bottom - 8, stroke: '#262626', 'stroke-width': 3}, g);
    
    
    const lb = mk('text', {x: xOf(t) + (t === 0 ? -3 : -7), y: cfg.tickBase, 'text-anchor': 'middle', class: 'tick', style: 'font-size:' + tickSize + 'px'}, g);
    lb.textContent = lagTickLabels[i];
    
    
  });
  const clip = mk('clipPath', {id: 'band-clip-' + key}, g);
  
  
  const clipRect = mk('rect', {x: cfg.left, y: cfg.top, width: cfg.right - cfg.left, height: cfg.bottom - cfg.top}, clip);
  
  
  return {xOf, yOf, g};
}
function drawSeries(key, scales, name, lags, mean, upper, lower, bandColor, lineColor) {
  const pU = lags.map((l, i) => [scales.xOf(l), scales.yOf(upper[i])]);
  const pL = lags.map((l, i) => [scales.xOf(l), scales.yOf(lower[i])]).reverse();
  const d = smoothPath(pU, false) + smoothPath(pL, false, false) + 'Z';
  const band = mk('path', {d: d, fill: bandColor, 'fill-opacity': .45, 'clip-path': 'url(#band-clip-' + key + ')'}, scales.g);
  
  
  const line = mk('path', {d: smoothPath(lags.map((l, i) => [scales.xOf(l), scales.yOf(mean[i])]), false), fill: 'none', stroke: lineColor, 'stroke-width': 13.5, 'stroke-linejoin': 'round'}, scales.g);
  
  
}
function finishAxes(scales, cfg) {
  const ax = mk('path', {d: 'M' + cfg.left + ' ' + cfg.top + 'V' + cfg.bottom + 'H' + cfg.right, fill: 'none', stroke: '#262626', 'stroke-width': 4}, scales.g);
  
  
}
function legendLine(scales, name, x0, x1, y, color) {
  const l = mk('line', {x1: x0, x2: x1, y1: y, y2: y, stroke: color, 'stroke-width': 13}, scales.g);
  
  
}

const TEAL_BAND = '#52bb9b', TEAL_LINE = '#4d9579', RUST_BAND = '#f05b2c', RUST_LINE = '#b85431';

const cfgE = {x0: 246.8, xPer: .85, y0: 1543, yPer: 217.9, left: 157, right: 590, top: 1179, bottom: 1764, labelGap: 20, tickBase: 1817};
const scE = drawAxes('e', cfgE, envYTicks, envYTickLabels, 42);
drawSeries('e', scE, 'envelope-reduced', envLags, envReducedMean, envReducedUpper, envReducedLower, TEAL_BAND, TEAL_LINE);
drawSeries('e', scE, 'envelope-full', envLags, envFullMean, envFullUpper, envFullLower, RUST_BAND, RUST_LINE);
finishAxes(scE, cfgE);
legendLine(scE, 'e-reduced', 195, 369, 1245.4, TEAL_LINE);
legendLine(scE, 'e-full', 195, 369, 1300.5, RUST_LINE);

const cfgF = {x0: 876, xPer: .857, y0: 1509.7, yPer: 127.05, left: 784, right: 1222.7, top: 1179, bottom: 1764, labelGap: 17, tickBase: 1817};
const scF = drawAxes('f', cfgF, unitYTicks, unitYTickLabels, 42);
drawSeries('f', scF, 'beat-reduced', beatLags, beatReducedMean, beatReducedUpper, beatReducedLower, TEAL_BAND, TEAL_LINE);
drawSeries('f', scF, 'beat-full', beatLags, beatFullMean, beatFullUpper, beatFullLower, RUST_BAND, RUST_LINE);
finishAxes(scF, cfgF);
legendLine(scF, 'f-reduced', 823, 997, 1245.4, TEAL_LINE);
legendLine(scF, 'f-full', 823, 997, 1300.5, RUST_LINE);

const cfgG = {x0: 1506.7, xPer: .851, y0: 1509.7, yPer: 127.05, left: 1416.7, right: 1851, top: 1179, bottom: 1764, labelGap: 20, tickBase: 1820};
const scG = drawAxes('g', cfgG, unitYTicks, unitYTickLabels, 44);
drawSeries('g', scG, 'meter-strong', meterLags, strongMean, strongUpper, strongLower, '#dd0a0e', '#aa1416');
drawSeries('g', scG, 'meter-mid', meterLags, midMean, midUpper, midLower, '#2671b4', '#27608d');
drawSeries('g', scG, 'meter-weak', meterLags, weakMean, weakUpper, weakLower, '#3eaf35', '#3b883a');
finishAxes(scG, cfgG);
legendLine(scG, 'g-strong', 1456, 1629, 1247, '#aa1416');
legendLine(scG, 'g-mid', 1456, 1629, 1305.6, '#27608d');
legendLine(scG, 'g-weak', 1456, 1629, 1363.8, '#3b883a');
</script>
</body>
</html>
